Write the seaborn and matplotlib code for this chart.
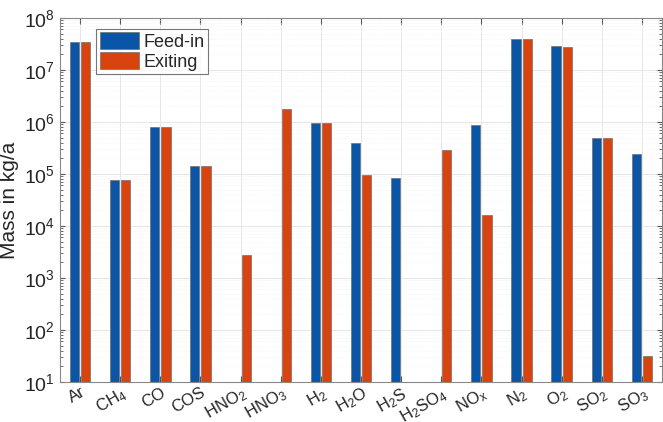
import numpy as np
import pandas as pd
import matplotlib
matplotlib.use("Agg")
import matplotlib.pyplot as plt
import seaborn as sns
from matplotlib.ticker import LogLocator, NullFormatter

sns.set_style("ticks")
plt.rcParams['font.family'] = ['Liberation Sans', 'DejaVu Sans']
plt.rcParams['mathtext.fontset'] = 'custom'
plt.rcParams['mathtext.rm'] = 'Liberation Sans'
plt.rcParams['mathtext.it'] = 'Liberation Sans'

# species and mass flows (kg/a), NaN = no bar
species = ['Ar', 'CH$_4$', 'CO', 'COS', 'HNO$_2$', 'HNO$_3$', 'H$_2$', 'H$_2$O',
           'H$_2$S', 'H$_2$SO$_4$', 'NO$_x$', 'N$_2$', 'O$_2$', 'SO$_2$', 'SO$_3$']
feed_in = [3.4e7, 7.7e4, 8.1e5, 1.45e5, np.nan, np.nan, 9.6e5, 4.0e5,
           8.2e4, np.nan, 8.6e5, 4.0e7, 2.9e7, 5.0e5, 2.4e5]
exiting = [3.4e7, 7.7e4, 8.1e5, 1.45e5, 2.8e3, 1.78e6, 9.4e5, 9.6e4,
           np.nan, 2.9e5, 1.6e4, 4.0e7, 2.8e7, 4.8e5, 31]

df = pd.DataFrame({
    'species': species * 2,
    'mass': feed_in + exiting,
    'stream': ['Feed-in'] * len(species) + ['Exiting'] * len(species),
})

fig = plt.figure(figsize=(6.63, 4.22), dpi=100)
ax = fig.add_axes([0.0905, 0.095, 0.908, 0.8626])

sns.barplot(data=df, x='species', y='mass', hue='stream', order=species,
            palette=['#0B55A6', '#D8430F'], saturation=1, width=0.56, gap=0.18,
            edgecolor='#707070', linewidth=0.5, ax=ax)
ax.set_yscale('log')

ax.set_ylim(10, 1e8)
ax.set_xlim(-0.5, len(species) - 0.5)
ax.yaxis.set_major_locator(LogLocator(base=10, numticks=10))
ax.yaxis.set_minor_locator(LogLocator(base=10, subs=np.arange(2, 10), numticks=10))
ax.yaxis.set_minor_formatter(NullFormatter())

ax.grid(True, which='major', color='#e6e6e6', linewidth=0.7)
ax.grid(True, which='minor', axis='y', color='#f0f0f0', linewidth=0.5, linestyle=':')
ax.set_axisbelow(True)

ax.tick_params(which='both', direction='in', top=True, right=True, color='#555555')
ax.tick_params(axis='y', labelsize=14)
ax.tick_params(axis='x', labelsize=12, length=4, pad=2)
for lab in ax.get_xticklabels():
    lab.set_rotation(30)
    lab.set_ha('right')
    lab.set_rotation_mode('anchor')

for s in ax.spines.values():
    s.set_color('#888888')
    s.set_linewidth(0.8)

ax.set_xlabel(None)
ax.xaxis.label.set_visible(False)
ax.set_ylabel('Mass in kg/a', fontsize=15)

leg = ax.legend(loc='upper left', bbox_to_anchor=(0.06, 0.97), borderaxespad=0,
                fontsize=13, frameon=True, fancybox=False, edgecolor='#555555',
                handlelength=2.2, handleheight=1.0, labelspacing=0.1,
                handletextpad=0.2, borderpad=0.2, title=None)
leg.get_frame().set_linewidth(0.8)

fig.savefig('out.png', dpi=100)
